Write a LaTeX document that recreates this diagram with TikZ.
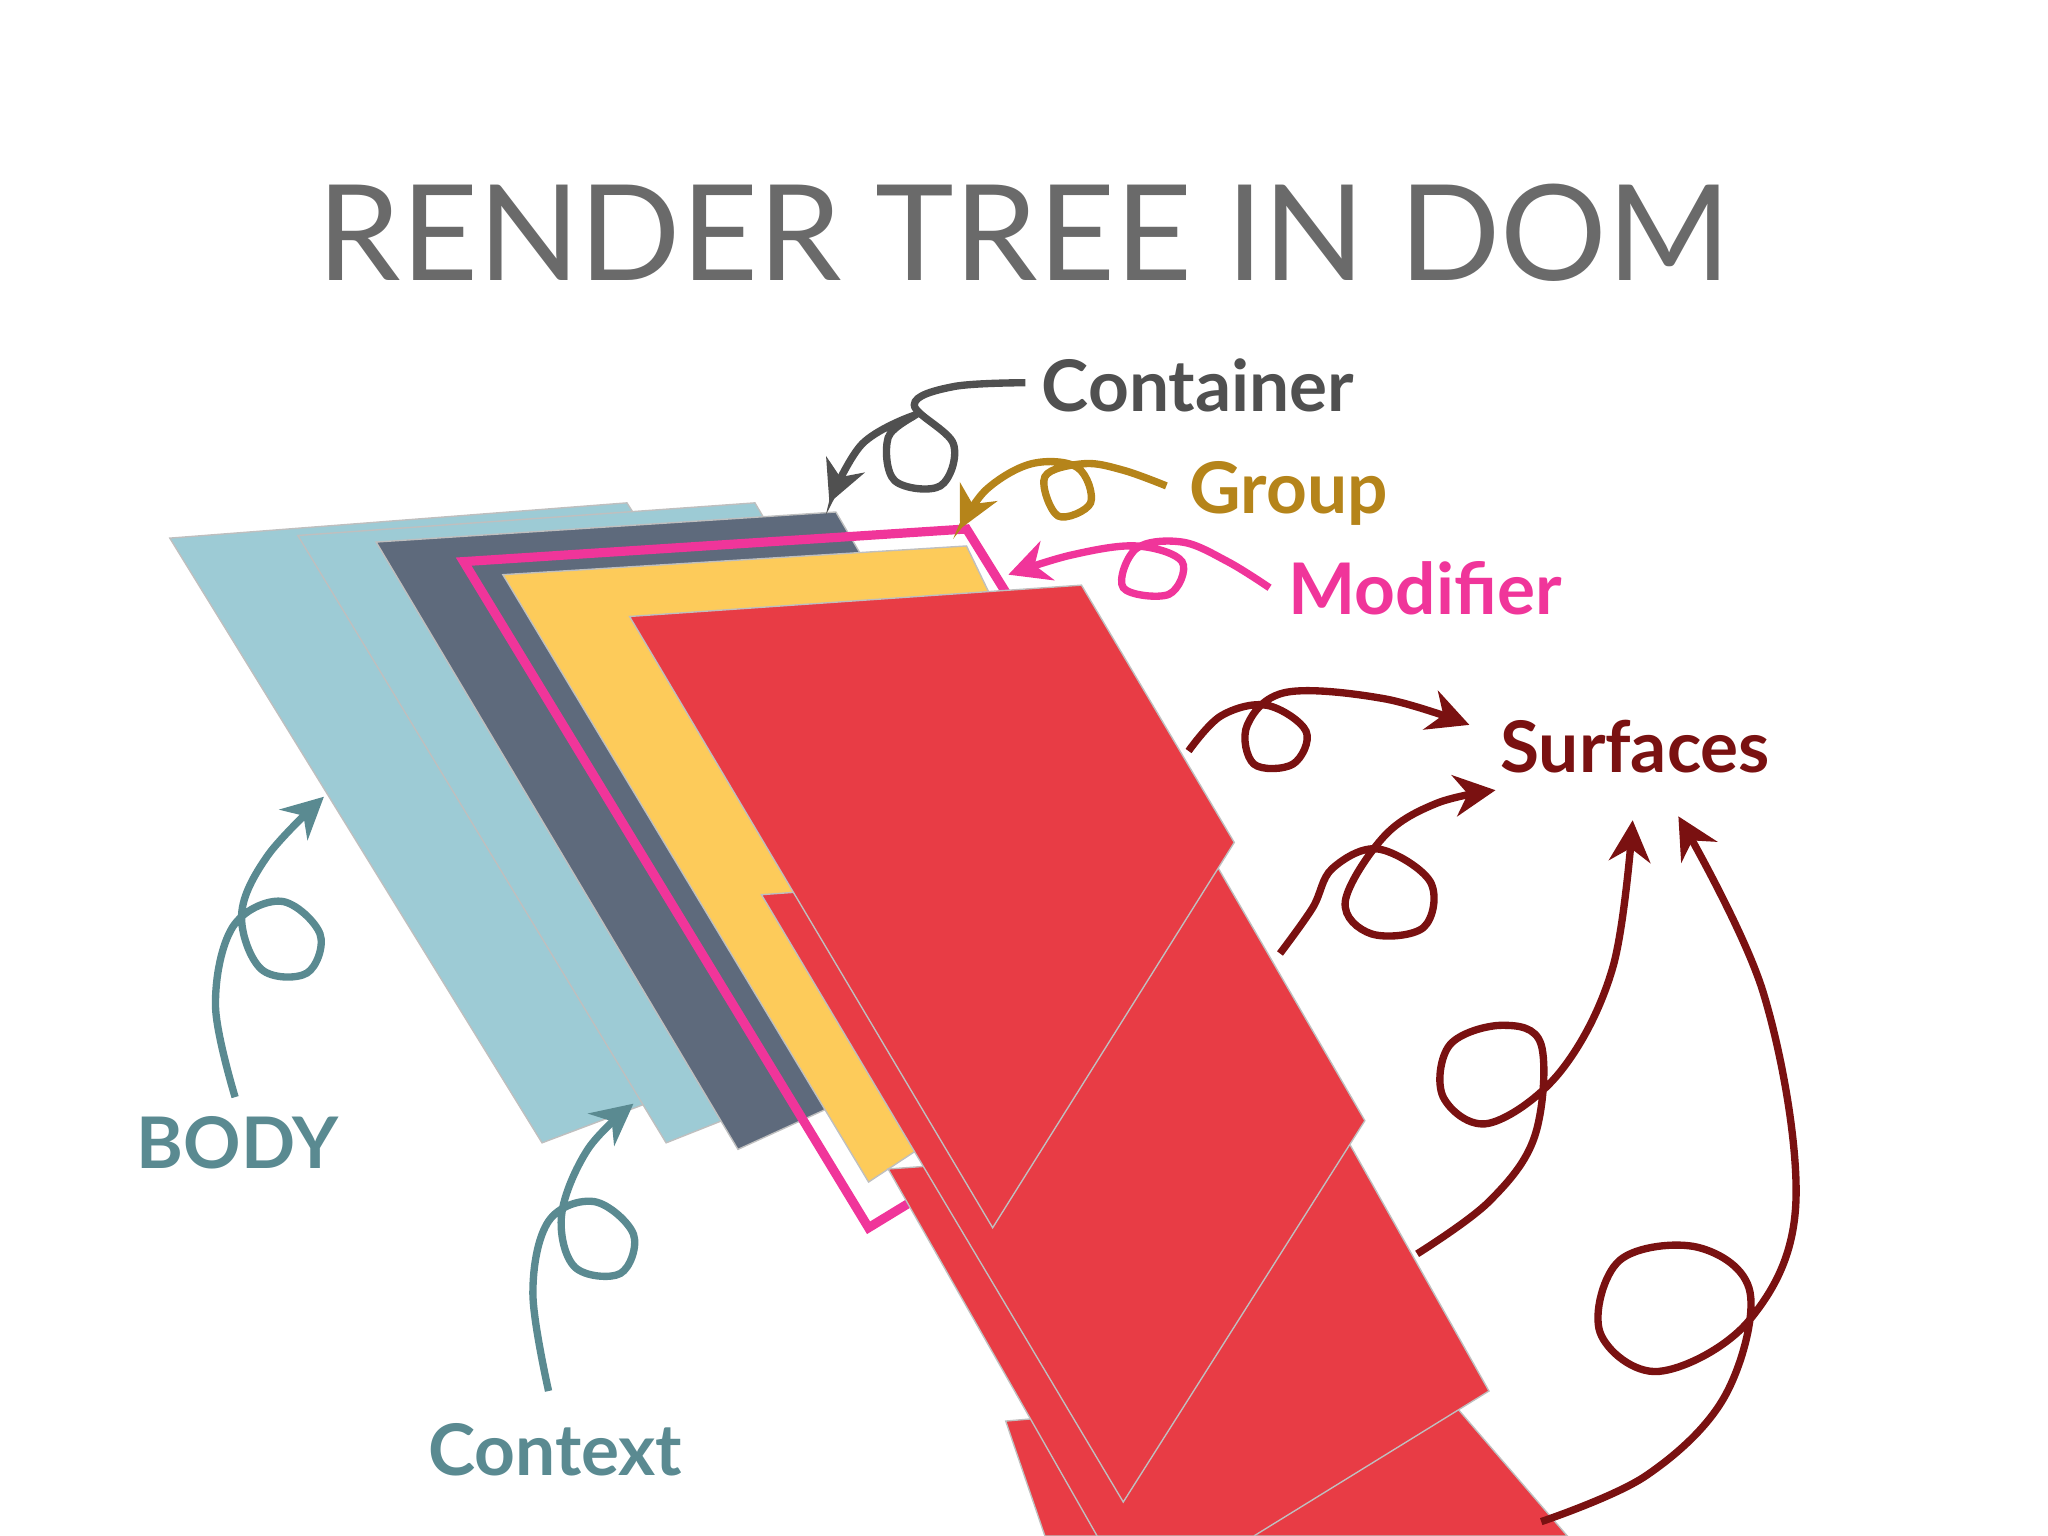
\documentclass[tikz,border=0pt]{standalone}
\usepackage{fontspec}
\setmainfont{Lato}
\usetikzlibrary{arrows.meta}
\definecolor{lblue}{HTML}{9DCBD5}
\definecolor{slate}{HTML}{5E6A7C}
\definecolor{yel}{HTML}{FDCB5A}
\definecolor{redd}{HTML}{E83C45}
\definecolor{pinkk}{HTML}{F0359A}
\definecolor{teal2}{HTML}{5A8A91}
\definecolor{dred}{HTML}{7A1111}
\definecolor{gold}{HTML}{B5841A}
\definecolor{gray2}{HTML}{505050}
\tikzset{sheet/.style={draw=black!25,line width=0.3pt},
 crv/.style={line width=1.6pt,-{Stealth[length=9pt,width=9pt]},smooth,tension=0.6},
 lbl/.style={font=\bfseries\fontsize{15.5}{18}\selectfont,anchor=west,inner sep=0}}
\begin{document}
\begin{tikzpicture}[x=0.01cm,y=-0.01cm]
\useasboundingbox (0,0) rectangle (1568,1176);
\node[font=\fontsize{29}{34}\selectfont,text=gray2!85] (title) at (784,178) {RENDER TREE IN DOM};
% sheets
\fill[lblue,sheet] (130,412)--(480,385)--(720,760)--(415,875)--cycle;
\fill[lblue,sheet] (228,410)--(578,385)--(800,760)--(510,875)--cycle;
\fill[slate,sheet] (288,415)--(640,392)--(850,750)--(565,880)--cycle;
\fill[yel,sheet] (385,440)--(740,418)--(900,750)--(665,905)--cycle;
\draw[pinkk,line width=2pt] (355,430)--(740,405)--(960,760)--(665,940)--cycle;
\fill[redd,sheet] (770,1088)--(1100,1060)--(1200,1176)--(800,1176)--cycle;
\fill[redd,sheet] (680,895)--(1030,870)--(1140,1065)--(960,1176)--(840,1176)--cycle;
\fill[redd,sheet] (583,685)--(930,660)--(1045,858)--(860,1150)--cycle;
\fill[redd,sheet] (482,472)--(828,448)--(945,645)--(760,940)--cycle;
% labels
\node[lbl,text=gray2] (cont) at (797,295) {Container};
\node[lbl,text=gold] (grp) at (910,378) {Group};
\node[lbl,text=pinkk] (mod) at (986,450) {Modifier};
\node[lbl,text=dred] (surf) at (1148,572) {Surfaces};
\node[lbl,text=teal2] (body) at (104,875) {BODY};
\node[lbl,text=teal2] (ctx) at (327,1110) {Context};
% arrows
\draw[crv,teal2] plot coordinates {(180,840)(165,770)(178,710)(215,690)(245,715)(235,745)(200,742)(185,700)(205,655)(248,610)};
\draw[crv,teal2] plot coordinates {(420,1065)(408,990)(420,935)(455,920)(485,945)(475,975)(440,970)(430,930)(450,880)(485,845)};
\draw[crv,gray2] plot coordinates {(785,293)(730,296)(700,310)(730,340)(720,372)(685,368)(680,335)(700,318)(660,340)(635,385)};
\draw[crv,gold] plot coordinates {(893,372)(860,360)(830,355)(800,365)(810,395)(835,385)(825,358)(790,355)(755,375)(735,405)};
\draw[crv,pinkk] plot coordinates {(972,450)(940,430)(905,415)(870,420)(860,450)(895,455)(905,430)(870,418)(820,425)(772,440)};
\draw[crv,dred] plot coordinates {(910,575)(935,548)(970,540)(1000,560)(990,585)(960,585)(955,555)(985,530)(1060,535)(1125,555)};
\draw[crv,dred] plot coordinates {(980,730)(1005,695)(1020,665)(1055,650)(1095,675)(1090,710)(1050,715)(1030,690)(1060,640)(1100,615)(1145,605)};
\draw[crv,dred] plot coordinates {(1085,960)(1140,920)(1175,870)(1180,800)(1150,785)(1110,800)(1105,840)(1140,860)(1195,820)(1235,740)(1250,628)};
\draw[crv,dred] plot coordinates {(1180,1165)(1260,1130)(1320,1070)(1340,990)(1300,955)(1240,965)(1225,1020)(1270,1050)(1340,1010)(1375,920)(1350,760)(1285,625)};
\end{tikzpicture}
\end{document}
